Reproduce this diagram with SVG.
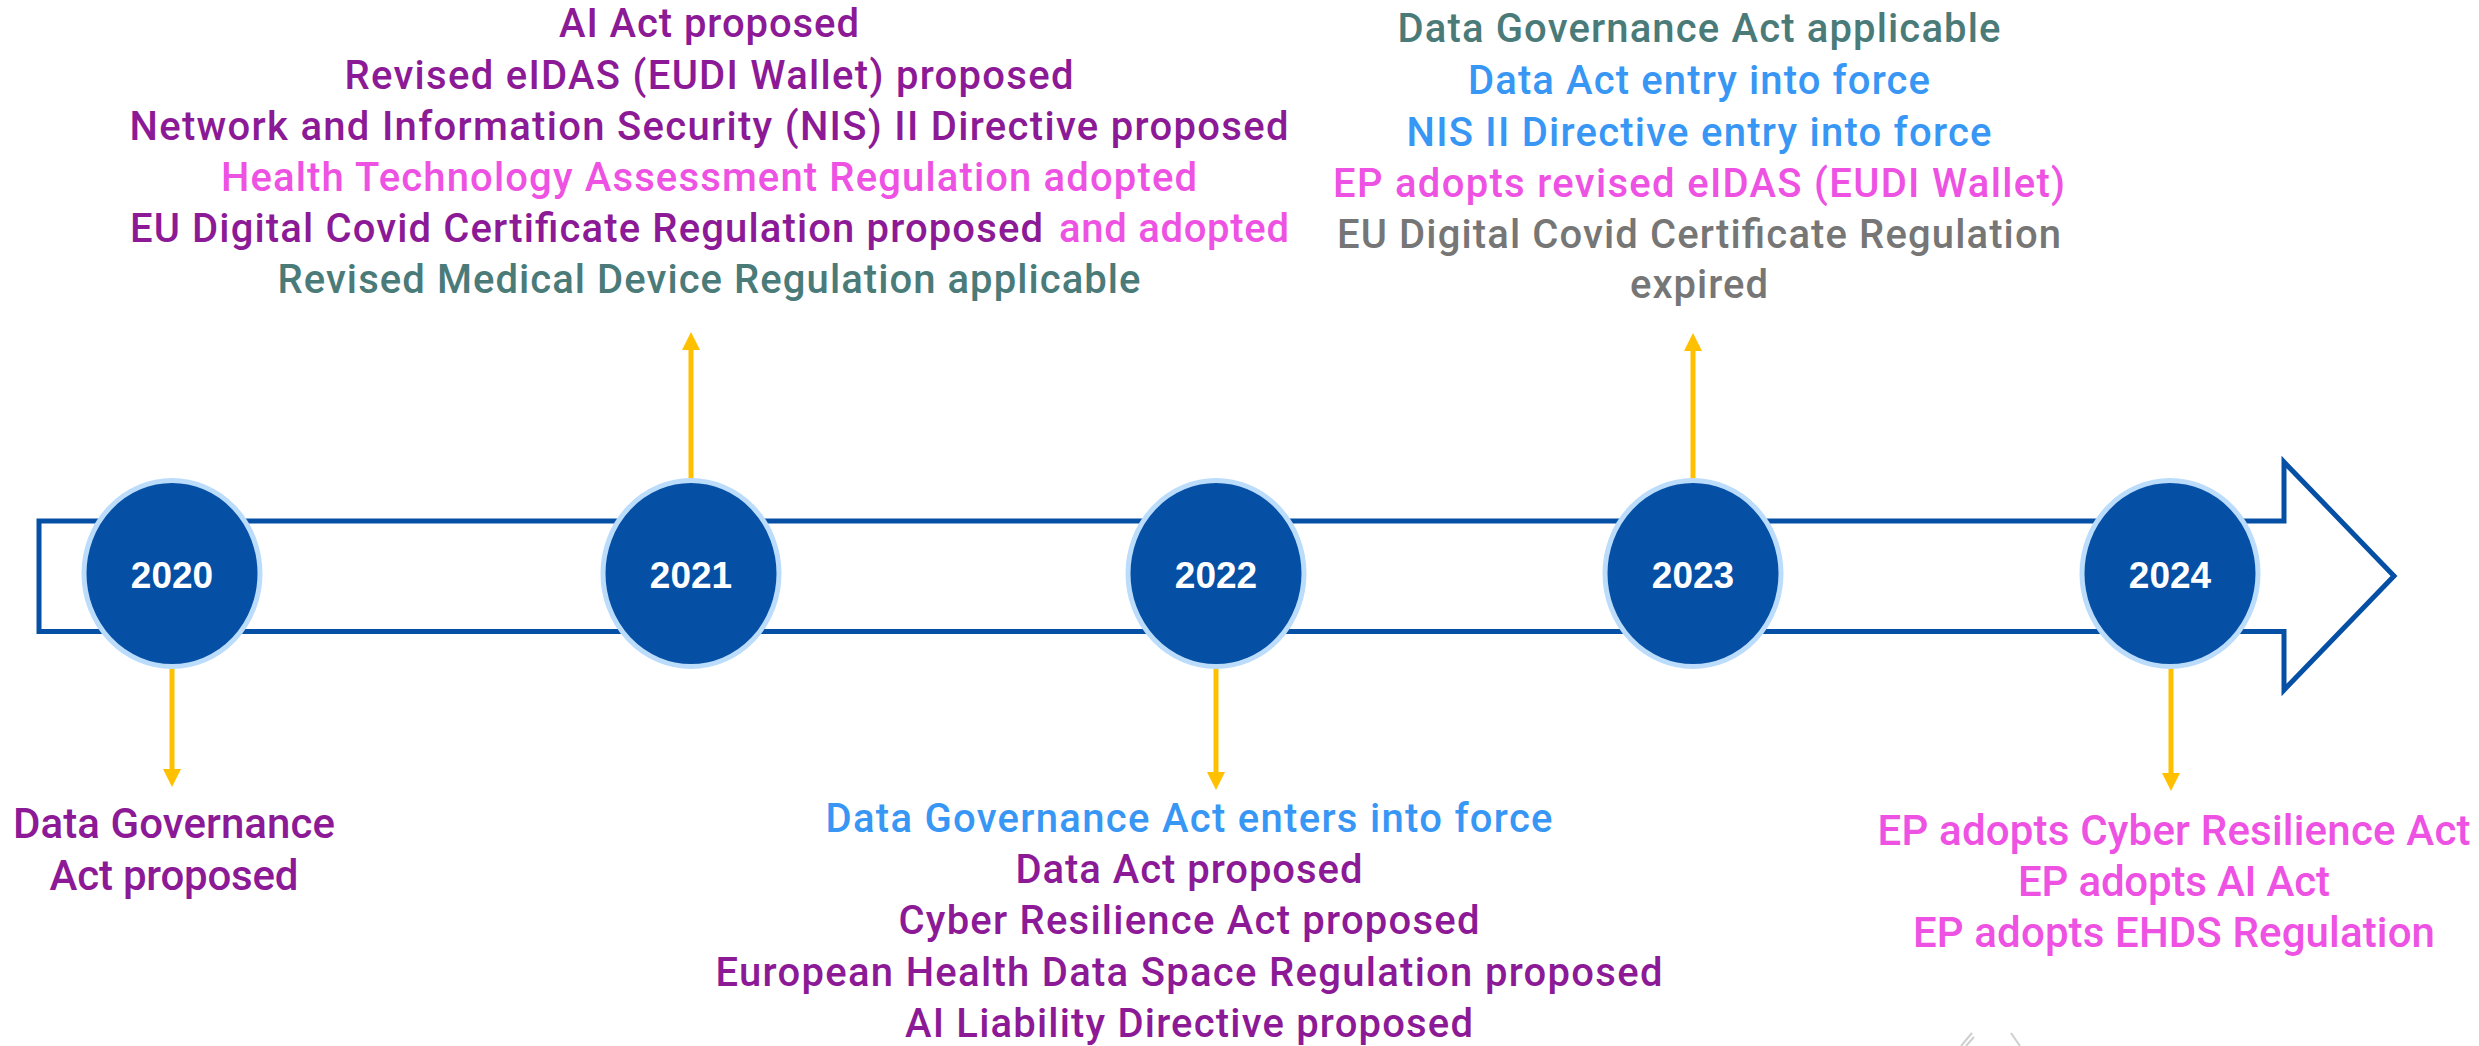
<svg xmlns="http://www.w3.org/2000/svg" width="2479" height="1046" viewBox="0 0 2479 1046">
<style>
.t{font-family:Roboto,"Liberation Sans",sans-serif;font-weight:500;font-size:40px;text-anchor:middle}
.b{font-size:42px}
.pu{fill:#8C1A96}.pk{fill:#EE52E3}.tl{fill:#4A7B79}.bl{fill:#3896F5}.gr{fill:#767676}
.yr{font-family:"Liberation Sans",Arial,sans-serif;font-weight:bold;font-size:37px;fill:#FFFFFF;text-anchor:middle}
.node ellipse{fill:#0550A5;stroke:#BCDCFB;stroke-width:5}
.conn{stroke:#FFC000;stroke-width:5;fill:none}
</style>
<defs>
<marker id="ah" markerUnits="userSpaceOnUse" viewBox="0 0 18 18" markerWidth="18" markerHeight="18" refX="8" refY="9" orient="auto">
<path d="M0,0 L18,9 L0,18 Z" fill="#FFC000"/>
</marker>
</defs>
<rect width="2479" height="1046" fill="#FFFFFF"/>
<path id="timeline" d="M39,521 H2284 V462 L2394,576 L2284,690 V631.5 H39 Z" fill="#FFFFFF" stroke="#0550A5" stroke-width="5" stroke-linejoin="miter"/>
<g id="connectors">
<line class="conn" x1="172" y1="668" x2="172" y2="777" marker-end="url(#ah)"/>
<line class="conn" x1="691" y1="480" x2="691" y2="342" marker-end="url(#ah)"/>
<line class="conn" x1="1216" y1="668" x2="1216" y2="780" marker-end="url(#ah)"/>
<line class="conn" x1="1693" y1="480" x2="1693" y2="343" marker-end="url(#ah)"/>
<line class="conn" x1="2171" y1="668" x2="2171" y2="781" marker-end="url(#ah)"/>
</g>
<g id="node-2020" class="node"><ellipse cx="172" cy="573.5" rx="88" ry="93"/><text class="yr" x="172" y="588">2020</text></g>
<g id="node-2021" class="node"><ellipse cx="691" cy="573.5" rx="88" ry="93"/><text class="yr" x="691" y="588">2021</text></g>
<g id="node-2022" class="node"><ellipse cx="1216" cy="573.5" rx="88" ry="93"/><text class="yr" x="1216" y="588">2022</text></g>
<g id="node-2023" class="node"><ellipse cx="1693" cy="573.5" rx="88" ry="93"/><text class="yr" x="1693" y="588">2023</text></g>
<g id="node-2024" class="node"><ellipse cx="2170" cy="573.5" rx="88" ry="93"/><text class="yr" x="2170" y="588">2024</text></g>
<g id="events-2020">
<text class="t b pu" x="174" y="838" textLength="322">Data Governance</text>
<text class="t b pu" x="174" y="890" textLength="249">Act proposed</text>
</g>
<g id="events-2021">
<text class="t pu" x="709" y="37" textLength="300">AI Act proposed</text>
<text class="t pu" x="709" y="89" textLength="729">Revised eIDAS (EUDI Wallet) proposed</text>
<text class="t pu" x="709" y="140" textLength="1159">Network and Information Security (NIS) II Directive proposed</text>
<text class="t pk" x="709" y="191" textLength="976">Health Technology Assessment Regulation adopted</text>
<text class="t pu" x="130" y="242" textLength="913" style="text-anchor:start">EU Digital Covid Certificate Regulation proposed</text>
<text class="t pk" x="1059" y="242" textLength="230" style="text-anchor:start">and adopted</text>
<text class="t tl" x="709" y="293" textLength="863">Revised Medical Device Regulation applicable</text>
</g>
<g id="events-2022">
<text class="t bl" x="1189" y="832" textLength="727">Data Governance Act enters into force</text>
<text class="t pu" x="1189" y="883" textLength="347">Data Act proposed</text>
<text class="t pu" x="1189" y="934" textLength="581">Cyber Resilience Act proposed</text>
<text class="t pu" x="1189" y="986" textLength="947">European Health Data Space Regulation proposed</text>
<text class="t pu" x="1189" y="1037" textLength="568">AI Liability Directive proposed</text>
</g>
<g id="events-2023">
<text class="t tl" x="1699" y="42" textLength="603">Data Governance Act applicable</text>
<text class="t bl" x="1699" y="94" textLength="462">Data Act entry into force</text>
<text class="t bl" x="1699" y="146" textLength="585">NIS II Directive entry into force</text>
<text class="t pk" x="1699" y="197" textLength="732">EP adopts revised eIDAS (EUDI Wallet)</text>
<text class="t gr" x="1699" y="248" textLength="724">EU Digital Covid Certificate Regulation</text>
<text class="t gr" x="1699" y="298" textLength="138">expired</text>
</g>
<g id="events-2024">
<text class="t b pk" x="2174" y="845" textLength="593">EP adopts Cyber Resilience Act</text>
<text class="t b pk" x="2174" y="896" textLength="312">EP adopts AI Act</text>
<text class="t b pk" x="2174" y="947" textLength="522">EP adopts EHDS Regulation</text>
</g>
<g id="fragment" stroke="#CFCFCF" stroke-width="2" fill="none">
<line x1="1961" y1="1046" x2="1972" y2="1033"/>
<line x1="1966" y1="1046" x2="1974" y2="1037"/>
<line x1="2011" y1="1033" x2="2020" y2="1046"/>
</g>
</svg>
